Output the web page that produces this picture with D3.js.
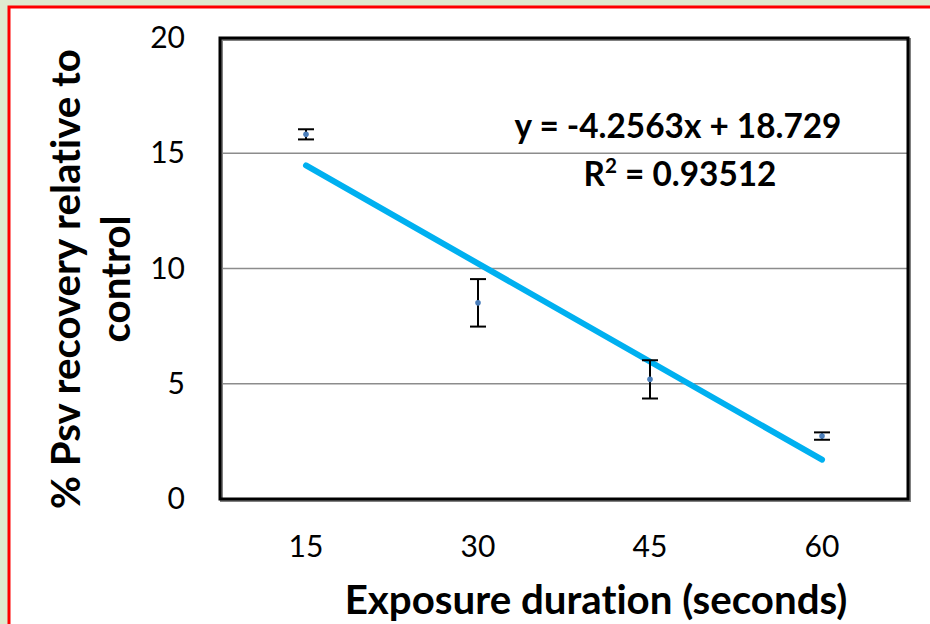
<!DOCTYPE html>
<html>
<head>
<meta charset="UTF-8">
<script src="https://d3js.org/d3.v7.min.js"></script>
<style>
  body { margin: 0; background: #dfeacf; overflow: hidden; }
  svg { display: block; font-family: Lato, "Open Sans", sans-serif; font-variant-ligatures: none; }
</style>
</head>
<body>
<div id="chart"></div>
<script>
const durations = ["15", "30", "45", "60"];
const recovery = [15.82, 8.51, 5.19, 2.73];
const errors = [0.22, 1.03, 0.83, 0.16];
const yTicks = [0, 5, 10, 15, 20];
const slope = -4.2563, intercept = 18.729;

const W = 930, H = 624;
const svg = d3.select("#chart").append("svg").attr("width", W).attr("height", H);

// scale font size so the text takes the given width
function fit(sel, target) {
  const fs = +sel.attr("font-size");
  const w = sel.node().getComputedTextLength();
  const nfs = fs * target / w;
  sel.attr("font-size", nfs);
  return nfs;
}

// frame
svg.append("rect").attr("x", 9).attr("y", 7).attr("width", W).attr("height", H)
  .attr("fill", "#fff").attr("stroke", "#f00").attr("stroke-width", 3);

const plot = { left: 220, top: 38, right: 908, bottom: 499 };
const x = d3.scaleBand().domain(durations).range([plot.left, plot.right]).padding(0);
const y = d3.scaleLinear().domain([0, 20]).range([plot.bottom, plot.top]);

// gridlines
svg.selectAll(".grid").data(yTicks.filter(d => d > 0 && d < 20)).enter().append("line")
  .attr("x1", plot.left).attr("x2", plot.right)
  .attr("y1", d => y(d)).attr("y2", d => y(d))
  .attr("stroke", "#8c8c8c").attr("stroke-width", 1.5);

// plot border with shadow
svg.append("rect").attr("x", plot.left + 1.5).attr("y", plot.top + 1.5)
  .attr("width", plot.right - plot.left).attr("height", plot.bottom - plot.top)
  .attr("fill", "none").attr("stroke", "#808080").attr("stroke-width", 3);
svg.append("rect").attr("x", plot.left).attr("y", plot.top)
  .attr("width", plot.right - plot.left).attr("height", plot.bottom - plot.top)
  .attr("fill", "none").attr("stroke", "#000").attr("stroke-width", 3);

// y tick labels
const yAxis = svg.append("g").attr("transform", `translate(${plot.left},0)`)
  .call(d3.axisLeft(y).tickValues(yTicks).tickSize(0).tickPadding(35));
yAxis.select(".domain").remove();
yAxis.selectAll("text").attr("font-size", 30).attr("fill", "#000").attr("font-family", "Lato, sans-serif");

// x tick labels
const xAxis = svg.append("g").attr("transform", `translate(0,${plot.bottom})`)
  .call(d3.axisBottom(x).tickSize(0).tickPadding(37));
xAxis.select(".domain").remove();
xAxis.selectAll("text").attr("font-size", 30).attr("fill", "#000").attr("font-family", "Lato, sans-serif");

// trendline
const cx = d => x(d) + x.bandwidth() / 2;
svg.append("line")
  .attr("x1", cx(durations[0])).attr("y1", y(slope * 1 + intercept))
  .attr("x2", cx(durations[3])).attr("y2", y(slope * 4 + intercept))
  .attr("stroke", "#00b0f0").attr("stroke-width", 6).attr("stroke-linecap", "round");

// error bars
const eb = svg.selectAll(".eb").data(durations).enter().append("g");
eb.append("line").attr("x1", d => cx(d)).attr("x2", d => cx(d))
  .attr("y1", (d, i) => y(recovery[i] + errors[i])).attr("y2", (d, i) => y(recovery[i] - errors[i]))
  .attr("stroke", "#000").attr("stroke-width", 2);
[1, -1].forEach(s => {
  eb.append("line").attr("x1", d => cx(d) - 8).attr("x2", d => cx(d) + 8)
    .attr("y1", (d, i) => y(recovery[i] + s * errors[i])).attr("y2", (d, i) => y(recovery[i] + s * errors[i]))
    .attr("stroke", "#000").attr("stroke-width", 2);
});
eb.append("circle").attr("cx", d => cx(d)).attr("cy", (d, i) => y(recovery[i]))
  .attr("r", 2.8).attr("fill", "#4a7ebb");

// equation
const eq = svg.append("text").attr("x", 678).attr("y", 138).attr("text-anchor", "middle")
  .attr("font-size", 27).attr("font-weight", "bold")
  .text(`y = ${slope}x + ${intercept}`);
const eqFs = fit(eq, 327);
const r2 = svg.append("text").attr("x", 680).attr("y", 186).attr("text-anchor", "middle")
  .attr("font-size", eqFs).attr("font-weight", "bold");
r2.append("tspan").text("R");
r2.append("tspan").attr("font-size", eqFs * 0.62).attr("dy", -eqFs * 0.38).text("2");
r2.append("tspan").attr("dy", eqFs * 0.38).text(" = 0.93512");

// axis titles
const xt = svg.append("text").attr("x", 596).attr("y", 614).attr("text-anchor", "middle")
  .attr("font-size", 30).attr("font-weight", "bold").text("Exposure duration (seconds)");
fit(xt, 503);
const yt = svg.append("text").attr("transform", "translate(0,279) rotate(-90)")
  .attr("text-anchor", "middle").attr("font-size", 30).attr("font-weight", "bold");
const yt1 = yt.append("tspan").attr("x", 0).attr("y", 80).text("% Psv recovery relative to");
const ytFs = 30 * 460 / yt1.node().getComputedTextLength();
yt.attr("font-size", ytFs);
yt.append("tspan").attr("x", 0).attr("y", 130).text("control");
</script>
</body>
</html>
